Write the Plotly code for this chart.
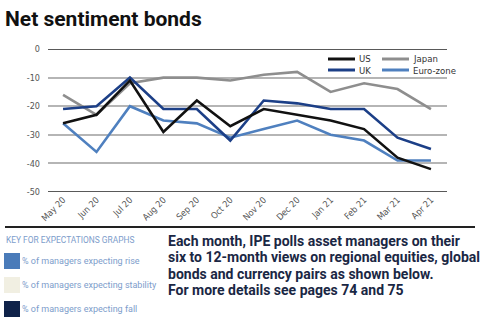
import plotly.graph_objects as go

# Monthly net sentiment readings for bond markets
months = ["May 20", "Jun 20", "Jul 20", "Aug 20", "Sep 20", "Oct 20",
          "Nov 20", "Dec 20", "Jan 21", "Feb 21", "Mar 21", "Apr 21"]
us = [-26, -23, -11, -29, -18, -27, -21, -23, -25, -28, -38, -42]
uk = [-21, -20, -10, -21, -21, -32, -18, -19, -21, -21, -31, -35]
japan = [-16, -23, -12, -10, -10, -11, -9, -8, -15, -12, -14, -21]
euro = [-26, -36, -20, -25, -26, -31, -28, -25, -30, -32, -39, -39]

y_ticks = [0, -10, -20, -30, -40, -50]

key_labels = ["% of managers expecting rise",
              "% of managers expecting stability",
              "% of managers expecting fall"]
key_colors = ["#4a7bb9", "#f1efe2", "#0f2249"]

intro_lines = [
    "Each month, IPE polls asset managers on their",
    "six to 12-month views on regional equities, global",
    "bonds and currency pairs as shown below.",
    "For more details see pages 74 and 75",
]

W, H = 480, 332
L, R, T, B = 48, 447, 49, 192  # plot area in pixels

NARROW = "DejaVu Sans Condensed, Liberation Sans Narrow, Liberation Sans, Arial, sans-serif"
KEYFONT = "Roboto, Liberation Sans, Arial, sans-serif"


def px(x):
    return (x - L) / (R - L)


def py(y):
    return (B - y) / (B - T)


series = {
    "US": (us, "#111111"),
    "UK": (uk, "#1c3f87"),
    "Japan": (japan, "#8e8e8e"),
    "Euro-zone": (euro, "#4f80bf"),
}

fig = go.Figure()
# Japan and Euro-zone underneath, US / UK on top
for name in ["Japan", "Euro-zone", "UK", "US"]:
    vals, color = series[name]
    fig.add_trace(go.Scatter(
        x=months, y=vals, mode="lines", name=name,
        line=dict(color=color, width=2.6), showlegend=False,
    ))

fig.update_layout(
    width=W, height=H,
    margin=dict(l=L, r=W - R, t=T, b=H - B),
    paper_bgcolor="white", plot_bgcolor="white",
    title=dict(text="<b>Net sentiment bonds</b>", x=5 / W, xanchor="left",
               xref="container", yref="container", y=1 - 11 / H, yanchor="top",
               font=dict(family="Roboto, Arial, sans-serif", size=21, color="#111111")),
    xaxis=dict(type="category", categoryorder="array", categoryarray=months,
               range=[-0.45, 11.48], showgrid=False, zeroline=False,
               tickangle=-45, ticks="", showline=False,
               tickfont=dict(family=NARROW, size=9, color="#555555")),
    yaxis=dict(range=[-50, 0], tickvals=y_ticks, ticktext=[str(v) for v in y_ticks],
               showgrid=True, gridcolor="#b5b5b5", gridwidth=1.5,
               zeroline=False, showline=False, ticks="", ticklabelstandoff=7,
               tickfont=dict(family=NARROW, size=9, color="#555555")),
)

shapes = []
annotations = []

# dark rules at the top (0) and bottom (-50) of the plot area
for yv in (0, -50):
    shapes.append(dict(type="line", xref="paper", yref="y", x0=0, x1=1,
                       y0=yv, y1=yv, line=dict(color="#222222", width=1.6)))

# two-column legend in the top-right corner
legend_layout = [("US", 328, 59), ("UK", 328, 70),
                 ("Japan", 382, 59), ("Euro-zone", 382, 70)]
for name, x0, yc in legend_layout:
    color = series[name][1]
    shapes.append(dict(type="line", xref="paper", yref="paper",
                       x0=px(x0), x1=px(x0 + 27), y0=py(yc), y1=py(yc),
                       line=dict(color=color, width=3)))
    annotations.append(dict(text=name, xref="paper", yref="paper",
                            x=px(x0 + 29), y=py(yc), xanchor="left", yanchor="middle",
                            showarrow=False,
                            font=dict(family=NARROW, size=9.5, color="#333333")))

# divider rule above the key
shapes.append(dict(type="line", xref="paper", yref="paper",
                   x0=px(5), x1=px(475), y0=py(227), y1=py(227),
                   line=dict(color="#222222", width=2)))

annotations.append(dict(text="KEY FOR EXPECTATIONS GRAPHS", xref="paper", yref="paper",
                        x=px(4), y=py(240), xanchor="left", yanchor="middle",
                        showarrow=False,
                        font=dict(family=KEYFONT, size=8.4, color="#7d9dcb")))
for i, (lab, col) in enumerate(zip(key_labels, key_colors)):
    top = 253 + i * 24
    shapes.append(dict(type="rect", xref="paper", yref="paper",
                       x0=px(4), x1=px(20), y0=py(top + 16), y1=py(top),
                       fillcolor=col, line=dict(width=0)))
    annotations.append(dict(text=lab, xref="paper", yref="paper",
                            x=px(20), y=py(top + 8), xanchor="left", yanchor="middle",
                            showarrow=False,
                            font=dict(family=KEYFONT, size=9, color="#7d9dcb")))

for i, line in enumerate(intro_lines):
    annotations.append(dict(text="<b>" + line + "</b>", xref="paper", yref="paper",
                            x=px(166), y=py(241 + i * 16.3), xanchor="left",
                            yanchor="middle", showarrow=False,
                            font=dict(family="Roboto, Arial, sans-serif", size=14,
                                      color="#1a2744")))

fig.update_layout(shapes=shapes, annotations=annotations)
fig.write_html("out.html")
